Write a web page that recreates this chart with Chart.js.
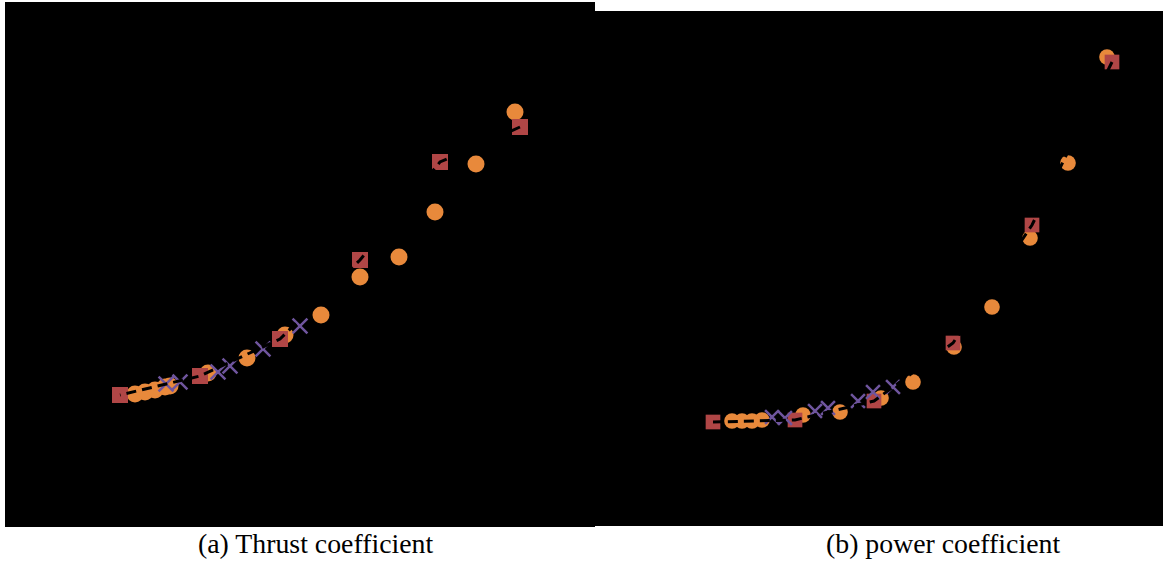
<!DOCTYPE html>
<html>
<head>
<meta charset="utf-8">
<script src="https://cdn.jsdelivr.net/npm/chart.js@4"></script>
<style>
  body { margin: 0; background: #fff; width: 1163px; height: 563px; overflow: hidden; position: relative; }
  canvas { position: absolute; background: #000; }
  .cap { position: absolute; top: 528px; font-family: "Liberation Serif", "Times New Roman", serif; font-size: 27.8px; line-height: 32px; color: #000; white-space: nowrap; }
</style>
</head>
<body>
<canvas id="thrust" width="590" height="525" style="left:5px;top:2px"></canvas>
<canvas id="power" width="568" height="515" style="left:595px;top:11px"></canvas>
<div class="cap" style="left:198px">(a) Thrust coefficient</div>
<div class="cap" style="left:826px">(b) power coefficient</div>
<script>
// (a) thrust coefficient
const ctCircleX = [5100, 4710, 4300, 3940, 3550, 3160, 2800, 2420, 2030, 1650, 1600, 1500, 1400, 1300]
const ctCircleY = [0.415, 0.363, 0.315, 0.270, 0.250, 0.212, 0.192, 0.169, 0.154, 0.141, 0.140, 0.137, 0.135, 0.133]
const ctSquareX = [5150, 4350, 3550, 2750, 1950, 1150]
const ctSquareY = [0.400, 0.365, 0.267, 0.188, 0.151, 0.132]
const ctCrossX = [2950, 2580, 2250, 2130, 1750, 1610]
const ctCrossY = [0.201, 0.178, 0.161, 0.155, 0.145, 0.143]

// (b) power coefficient
const cpCircleX = [5120, 4730, 4350, 3970, 3590, 3180, 2860, 2450, 2080, 1670, 1570, 1470, 1370]
const cpCircleY = [0.469, 0.363, 0.288, 0.219, 0.179, 0.144, 0.128, 0.114, 0.111, 0.106, 0.105, 0.105, 0.105]
const cpSquareX = [5170, 4370, 3580, 2790, 2000, 1180]
const cpSquareY = [0.464, 0.301, 0.183, 0.125, 0.106, 0.104]
const cpCrossX = [2980, 2780, 2630, 2330, 2200, 1900, 1770]
const cpCrossY = [0.139, 0.134, 0.125, 0.118, 0.115, 0.108, 0.109]

const orange = '#e8893b'
const red = '#b04646'
const purple = '#6f559e'

const pts = (xs, ys) => xs.map((x, i) => ({ x, y: ys[i] }))

const makeChart = (id, circ, sq, cross, xMax, yMax, r) => {
  new Chart(document.getElementById(id), {
    type: 'scatter',
    data: {
      datasets: [
        // dark line through the squares, only shows where it crosses markers
        { data: sq, showLine: true, borderColor: '#000', borderWidth: 3, borderDash: [10, 6], pointRadius: 0, order: 0 },
        { data: cross, pointStyle: 'crossRot', pointRadius: r + 2, borderColor: purple, borderWidth: 2.5, order: 1 },
        { data: sq, pointStyle: 'rect', pointRadius: r * 1.33, backgroundColor: red, borderWidth: 0, order: 2 },
        { data: circ, pointStyle: 'circle', pointRadius: r, backgroundColor: orange, borderWidth: 0, order: 3 },
      ]
    },
    options: {
      responsive: false,
      animation: false,
      events: [],
      layout: { padding: 0, autoPadding: false },
      plugins: { legend: { display: false }, tooltip: { enabled: false } },
      scales: {
        x: { type: 'linear', min: 0, max: xMax, display: false },
        y: { type: 'linear', min: 0, max: yMax, display: false },
      }
    }
  })
}

makeChart('thrust', pts(ctCircleX, ctCircleY), pts(ctSquareX, ctSquareY), pts(ctCrossX, ctCrossY), 5900, 0.525, 8.5)
makeChart('power', pts(cpCircleX, cpCircleY), pts(cpSquareX, cpSquareY), pts(cpCrossX, cpCrossY), 5680, 0.515, 7.8)
</script>
</body>
</html>
